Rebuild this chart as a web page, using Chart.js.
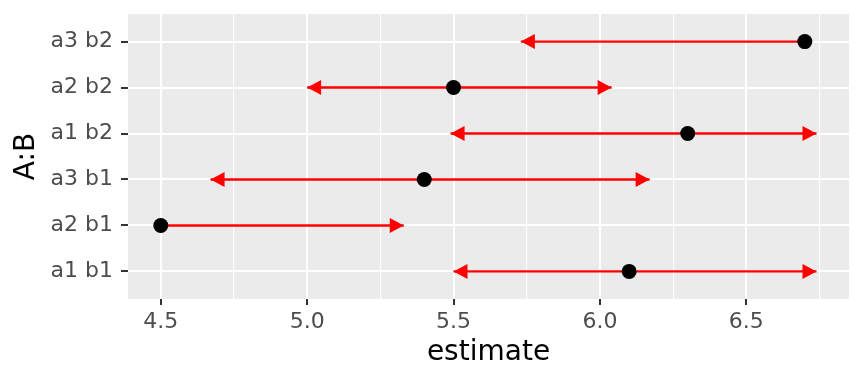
<!DOCTYPE html>
<html>
<head>
<meta charset="utf-8">
<script src="https://cdn.jsdelivr.net/npm/chart.js@4/dist/chart.umd.min.js"></script>
<style>
  html, body { margin: 0; padding: 0; background: #fff; }
  canvas { display: block; }
</style>
</head>
<body>
<canvas id="chart" width="864" height="384"></canvas>
<script>
// rows from bottom to top
const rowLabels = ['a1 b1', 'a2 b1', 'a3 b1', 'a1 b2', 'a2 b2', 'a3 b2'];
const estimate = [6.1, 4.5, 5.4, 6.3, 5.5, 6.7];
const lower = [5.5, 4.5, 4.67, 5.49, 5.0, 5.73];
const upper = [6.74, 5.33, 6.17, 6.74, 6.04, 6.7];

const xMajor = [4.5, 5.0, 5.5, 6.0, 6.5];
const xMinor = [4.75, 5.25, 5.75, 6.25, 6.75];
const xMin = 4.388, xMax = 6.851;

const isMajor = v => xMajor.some(m => Math.abs(m - v) < 1e-9);

// grey panel behind the grid
const panelBg = {
    id: 'panelBg',
    beforeDraw(chart) {
        const a = chart.chartArea;
        const ctx = chart.ctx;
        ctx.save();
        ctx.fillStyle = '#EBEBEB';
        ctx.fillRect(a.left, a.top, a.right - a.left, a.bottom - a.top);
        ctx.restore();
    }
};

// arrow heads at the interval ends
function head(ctx, tipX, y, dir) {
    const len = 14, half = 7.5;
    ctx.beginPath();
    ctx.moveTo(tipX, y);
    ctx.lineTo(tipX - dir * len, y - half);
    ctx.lineTo(tipX - dir * len, y + half);
    ctx.closePath();
    ctx.fill();
}

const arrowHeads = {
    id: 'arrowHeads',
    afterDatasetDraw(chart, args) {
        if (args.index === 0) return;
        const i = args.index - 1;
        const xs = chart.scales.x, ys = chart.scales.y;
        const y = ys.getPixelForValue(i + 1);
        const ctx = chart.ctx;
        ctx.save();
        ctx.fillStyle = '#FF0000';
        if (lower[i] < estimate[i]) head(ctx, xs.getPixelForValue(lower[i]), y, -1);
        if (upper[i] > estimate[i]) head(ctx, xs.getPixelForValue(upper[i]), y, 1);
        ctx.restore();
    }
};

const datasets = [{
    label: 'estimate',
    data: estimate.map((v, i) => ({ x: v, y: i + 1 })),
    pointRadius: 7.5,
    pointBorderWidth: 0,
    pointBackgroundColor: '#000000',
    showLine: false
}];
rowLabels.forEach((lab, i) => {
    datasets.push({
        label: lab,
        data: [{ x: lower[i], y: i + 1 }, { x: upper[i], y: i + 1 }],
        showLine: true,
        borderColor: '#FF0000',
        borderWidth: 2.4,
        pointRadius: 0
    });
});

new Chart(document.getElementById('chart'), {
    type: 'scatter',
    data: { datasets },
    plugins: [panelBg, arrowHeads],
    options: {
        responsive: false,
        animation: false,
        devicePixelRatio: 1,
        layout: { padding: { top: 14, right: 15, left: 0, bottom: 0 } },
        plugins: {
            legend: { display: false },
            tooltip: { enabled: false }
        },
        scales: {
            x: {
                type: 'linear',
                min: xMin,
                max: xMax,
                afterFit: s => {
                    s.height = 85;
                    s.paddingLeft = 0;
                    s.paddingRight = 0;
                },
                afterBuildTicks: s => {
                    s.ticks = [...xMajor, ...xMinor].sort((a, b) => a - b).map(v => ({ value: v }));
                },
                border: { display: false },
                grid: {
                    color: '#FFFFFF',
                    lineWidth: c => isMajor(c.tick.value) ? 2 : 1.1,
                    tickColor: c => isMajor(c.tick.value) ? '#333333' : 'rgba(0,0,0,0)',
                    tickWidth: 2,
                    tickLength: 6
                },
                ticks: {
                    autoSkip: false,
                    maxRotation: 0,
                    padding: 4,
                    color: '#4D4D4D',
                    font: { family: 'DejaVu Sans', size: 22 },
                    callback: v => isMajor(v) ? v.toFixed(1) : ''
                },
                title: {
                    display: true,
                    text: 'estimate',
                    color: '#000000',
                    font: { family: 'DejaVu Sans', size: 28 },
                    padding: { top: 0, bottom: 14 }
                }
            },
            y: {
                type: 'linear',
                min: 0.4,
                max: 6.6,
                afterFit: s => {
                    s.width = 128;
                    s.paddingTop = 0;
                    s.paddingBottom = 0;
                },
                afterBuildTicks: s => {
                    s.ticks = rowLabels.map((l, i) => ({ value: i + 1 }));
                },
                border: { display: false },
                grid: {
                    color: '#FFFFFF',
                    lineWidth: 2,
                    tickColor: '#333333',
                    tickWidth: 2,
                    tickLength: 7
                },
                ticks: {
                    autoSkip: false,
                    padding: 8,
                    color: '#4D4D4D',
                    font: { family: 'DejaVu Sans', size: 22 },
                    callback: v => rowLabels[v - 1]
                },
                title: {
                    display: true,
                    text: 'A:B',
                    color: '#000000',
                    font: { family: 'DejaVu Sans', size: 28 },
                    padding: { top: 10, bottom: 0 }
                }
            }
        }
    }
});
</script>
</body>
</html>
